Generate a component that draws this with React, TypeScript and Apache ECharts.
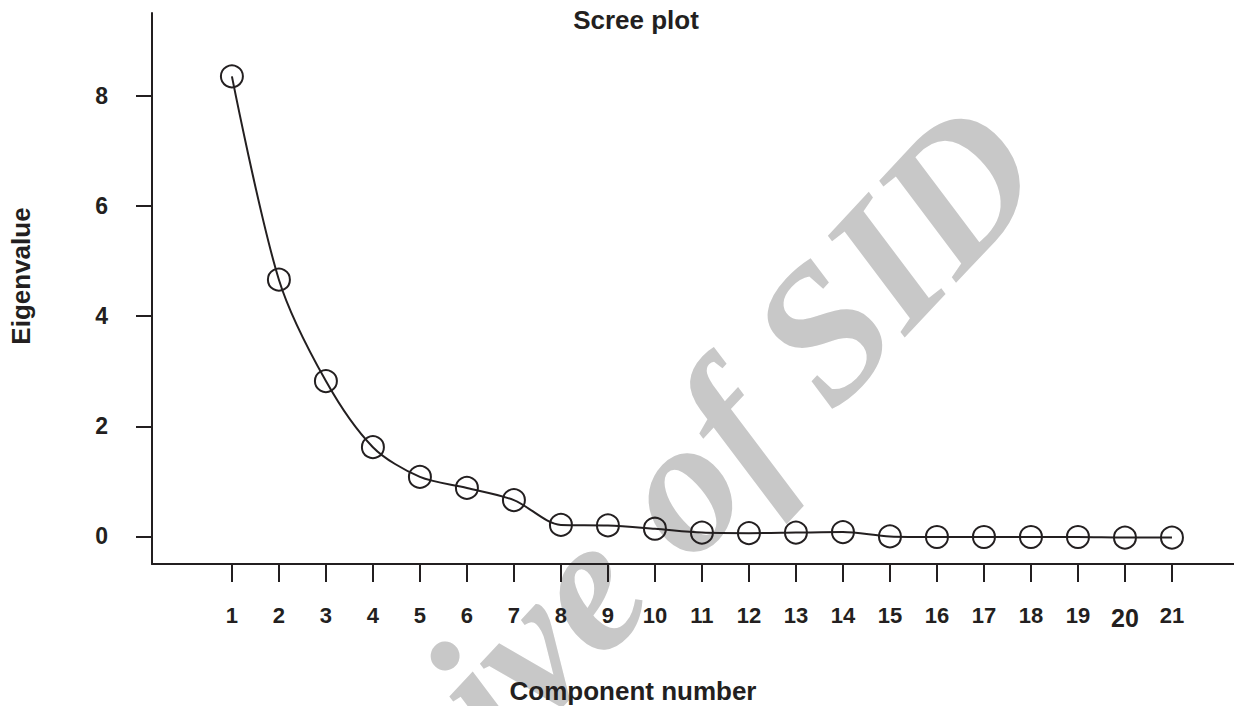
import React, { useEffect, useRef } from "react";
import * as echarts from "echarts";

const componentNumbers = [1, 2, 3, 4, 5, 6, 7, 8, 9, 10, 11, 12, 13, 14, 15, 16, 17, 18, 19, 20, 21];
const eigenvalues = [8.35, 4.66, 2.82, 1.62, 1.08, 0.88, 0.66, 0.21, 0.2, 0.14, 0.07, 0.06, 0.07, 0.08, 0.0, -0.01, -0.01, -0.01, -0.01, -0.02, -0.02];
const yTickValues = [0, 2, 4, 6, 8];

const titleText = "Scree plot";
const xAxisName = "Component number";
const yAxisName = "Eigenvalue";
const watermarkText = "Archive of SID";

const INK = "#231f20";
const FONT = "Liberation Sans";

export default function App() {
  const ref = useRef<HTMLDivElement>(null);

  useEffect(() => {
    document.body.style.margin = "0";
    if (!ref.current) return;
    const chart = echarts.init(ref.current, null, { renderer: "svg" });
    const data = componentNumbers.map((c, i) => [c, eigenvalues[i]]);

    chart.setOption({
      animation: false,
      backgroundColor: "#ffffff",
      grid: {
        left: 152,
        right: 0,
        top: 13,
        bottom: 142,
        containLabel: false,
        outerBoundsMode: "none",
      },
      xAxis: {
        type: "value",
        min: -0.7,
        max: 22.32,
        splitLine: { show: false },
        axisLine: { show: true, onZero: false, lineStyle: { color: INK, width: 2 } },
        axisTick: {
          show: true,
          customValues: componentNumbers,
          length: 18,
          inside: false,
          lineStyle: { color: INK, width: 2 },
        },
        axisLabel: {
          show: true,
          customValues: componentNumbers,
          margin: 40,
          fontSize: 22,
          lineHeight: 22,
          fontWeight: "bold",
          fontFamily: FONT,
          color: INK,
          formatter: (v: number) => (v === 20 ? "{big|20}" : String(v)),
          rich: {
            big: {
              fontSize: 25,
              lineHeight: 22,
              fontWeight: "bold",
              fontFamily: FONT,
              color: INK,
              padding: [5, 0, 0, 0],
            },
          },
        },
      },
      yAxis: {
        type: "value",
        min: -0.5,
        max: 9.5,
        splitLine: { show: false },
        axisLine: { show: true, onZero: false, lineStyle: { color: INK, width: 2 } },
        axisTick: {
          show: true,
          customValues: yTickValues,
          length: 16,
          inside: false,
          lineStyle: { color: INK, width: 2 },
        },
        axisLabel: {
          show: true,
          customValues: yTickValues,
          margin: 44,
          fontSize: 23,
          fontWeight: "bold",
          fontFamily: FONT,
          color: INK,
        },
      },
      graphic: [
        {
          type: "text",
          z: -10,
          x: 597,
          y: 573,
          rotation: (47 * Math.PI) / 180,
          silent: true,
          style: {
            text: watermarkText,
            fill: "#c8c8c8",
            fontSize: 192,
            fontFamily: "Liberation Serif",
            fontStyle: "italic",
            fontWeight: "bold",
            align: "center",
            verticalAlign: "middle",
          },
        },
        {
          type: "text",
          x: 636,
          y: 20,
          style: {
            text: titleText,
            fill: INK,
            fontSize: 26,
            fontFamily: FONT,
            fontWeight: "bold",
            align: "center",
            verticalAlign: "middle",
          },
        },
        {
          type: "text",
          x: 633,
          y: 691,
          style: {
            text: xAxisName,
            fill: INK,
            fontSize: 26,
            fontFamily: FONT,
            fontWeight: "bold",
            align: "center",
            verticalAlign: "middle",
          },
        },
        {
          type: "text",
          x: 21,
          y: 276,
          rotation: Math.PI / 2,
          style: {
            text: yAxisName,
            fill: INK,
            fontSize: 26,
            fontFamily: FONT,
            fontWeight: "bold",
            align: "center",
            verticalAlign: "middle",
          },
        },
      ],
      series: [
        {
          type: "line",
          data,
          smooth: 0.3,
          symbol: "circle",
          symbolSize: 22,
          z: 5,
          lineStyle: { color: INK, width: 2 },
          itemStyle: { color: "rgba(0,0,0,0)", borderColor: INK, borderWidth: 2 },
          emphasis: { disabled: true },
        },
      ],
    });

    return () => chart.dispose();
  }, []);

  return <div ref={ref} style={{ width: 1234, height: 706 }} />;
}
